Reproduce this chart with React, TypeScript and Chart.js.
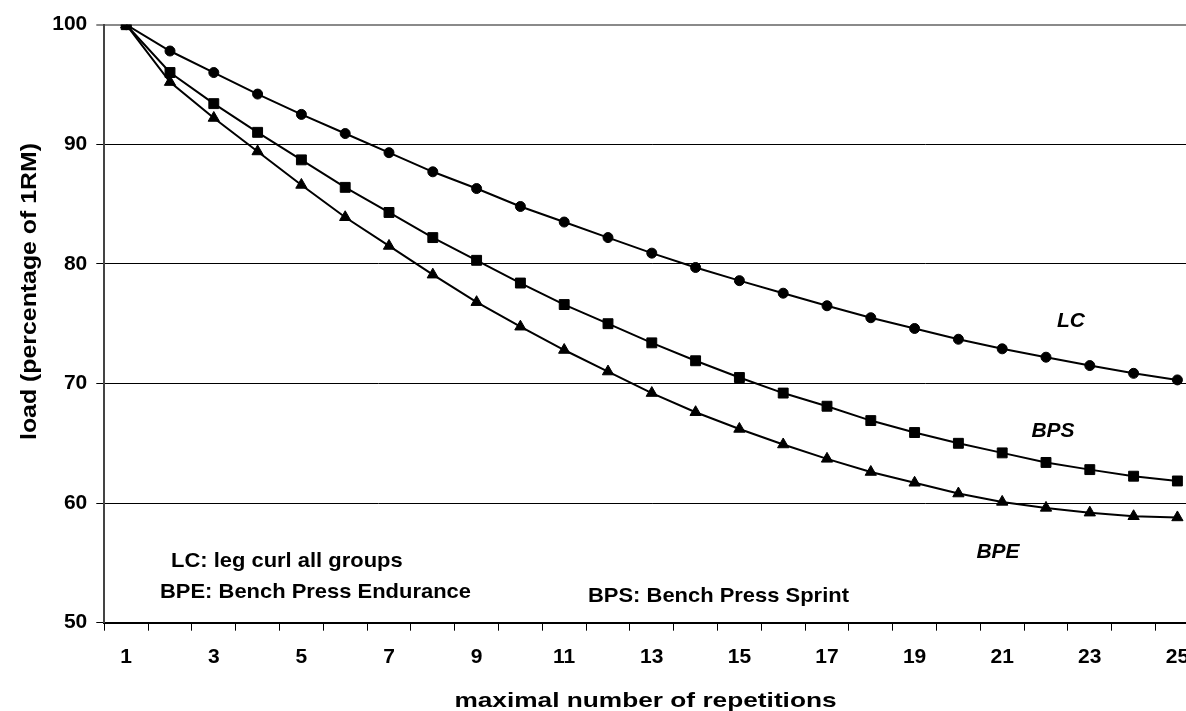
import React, { useEffect, useRef } from "react";
import { Chart, registerables } from "chart.js";

Chart.register(...registerables);

const repetitions = [
  "1", "2", "3", "4", "5", "6", "7", "8", "9", "10", "11", "12", "13",
  "14", "15", "16", "17", "18", "19", "20", "21", "22", "23", "24", "25",
];
const lcLoad = [
  100, 97.8, 96.0, 94.2, 92.5, 90.9, 89.3, 87.7, 86.3, 84.8, 83.5, 82.2, 80.9,
  79.7, 78.6, 77.55, 76.5, 75.5, 74.6, 73.7, 72.9, 72.2, 71.5, 70.85, 70.3,
];
const bpsLoad = [
  100, 96.0, 93.4, 91.0, 88.7, 86.4, 84.3, 82.2, 80.3, 78.4, 76.6, 75.0, 73.4,
  71.9, 70.5, 69.2, 68.1, 66.9, 65.9, 65.0, 64.2, 63.4, 62.8, 62.25, 61.85,
];
const bpeLoad = [
  100, 95.2, 92.2, 89.4, 86.6, 83.9, 81.5, 79.1, 76.8, 74.75, 72.8, 71.0, 69.2,
  67.6, 66.2, 64.9, 63.7, 62.6, 61.7, 60.8, 60.1, 59.6, 59.2, 58.9, 58.8,
];
const yMin = 50;
const yMax = 100;
const yStep = 10;

const xTitle = "maximal number of repetitions";
const yTitle = "load (percentage of 1RM)";
const seriesTags = ["LC", "BPS", "BPE"];
const notes = [
  "LC: leg curl all groups",
  "BPE: Bench Press Endurance",
  "BPS: Bench Press Sprint",
];

const FONT = '"Liberation Sans", Arial, Helvetica, sans-serif';

function drawText(
  ctx: CanvasRenderingContext2D,
  text: string,
  x: number,
  y: number,
  size: number,
  sx: number,
  align: CanvasTextAlign,
  italic = false,
  rotate = 0
) {
  ctx.save();
  ctx.translate(x, y);
  if (rotate) ctx.rotate(rotate);
  ctx.scale(sx, 1);
  ctx.font = `${italic ? "italic " : ""}bold ${size}px ${FONT}`;
  ctx.textAlign = align;
  ctx.textBaseline = "alphabetic";
  ctx.fillStyle = "#000";
  ctx.fillText(text, 0, 0);
  ctx.restore();
}

const textPlugin = {
  id: "textPlugin",
  afterDraw(chart: any) {
    const ctx = chart.ctx as CanvasRenderingContext2D;
    // axis titles
    drawText(ctx, yTitle, 36, 291.5, 22, 1.13, "center", false, -Math.PI / 2);
    drawText(ctx, xTitle, 645.5, 706.5, 21, 1.25, "center");
    // series tags
    drawText(ctx, seriesTags[0], 1071, 327.3, 20, 1.05, "center", true);
    drawText(ctx, seriesTags[1], 1053, 436.7, 21, 1.0, "center", true);
    drawText(ctx, seriesTags[2], 998, 558.3, 21, 1.0, "center", true);
    // notes
    drawText(ctx, notes[0], 171, 566.7, 21, 1.045, "left");
    drawText(ctx, notes[1], 160, 598.3, 21, 1.045, "left");
    drawText(ctx, notes[2], 588, 601.7, 21, 1.045, "left");
  },
};

export default function App() {
  const canvasRef = useRef<HTMLCanvasElement | null>(null);

  useEffect(() => {
    const canvas = canvasRef.current;
    if (!canvas) return;
    const common = {
      borderColor: "#000",
      backgroundColor: "#000",
      borderWidth: 2,
      pointBackgroundColor: "#000",
      pointBorderColor: "#000",
      pointBorderWidth: 1,
      tension: 0,
      fill: false,
    };
    const chart = new Chart(canvas, {
      type: "line",
      data: {
        labels: repetitions,
        datasets: [
          { ...common, label: "LC", data: lcLoad, pointStyle: "circle", pointRadius: 5 },
          { ...common, label: "BPS", data: bpsLoad, pointStyle: "rect", pointRadius: 7 },
          { ...common, label: "BPE", data: bpeLoad, pointStyle: "triangle", pointRadius: 6.5 },
        ],
      },
      options: {
        responsive: false,
        animation: false,
        devicePixelRatio: 1,
        layout: { padding: { top: 24.7, right: 30.7, bottom: 0, left: 0 } },
        plugins: {
          legend: { display: false },
          tooltip: { enabled: false },
          title: { display: false },
        },
        scales: {
          x: {
            type: "category",
            offset: true,
            afterFit: (scale: any) => {
              scale.height = 88.3;
            },
            grid: {
              display: true,
              offset: true,
              drawOnChartArea: false,
              drawTicks: true,
              tickLength: 8,
              color: "#000",
              lineWidth: 1,
            },
            border: { display: true, color: "#000", width: 2 },
            ticks: {
              autoSkip: false,
              maxRotation: 0,
              minRotation: 0,
              padding: 14,
              color: "#000",
              font: { family: FONT, size: 21, weight: "bold" },
              callback: (_v: any, index: number) =>
                index % 2 === 0 ? repetitions[index] : "",
            },
          },
          y: {
            min: yMin,
            max: yMax,
            afterFit: (scale: any) => {
              scale.width = 104.3;
            },
            grid: {
              display: true,
              drawTicks: true,
              tickLength: 8,
              color: (c: any) =>
                c.tick && c.tick.value === yMax ? "#8a8a8a" : "#000",
              lineWidth: (c: any) => (c.tick && c.tick.value === yMax ? 2 : 1),
            },
            border: { display: true, color: "#444", width: 2 },
            ticks: {
              stepSize: yStep,
              padding: 9,
              color: "#000",
              font: { family: FONT, size: 21, weight: "bold" },
            },
          },
        },
      },
      plugins: [textPlugin],
    });
    return () => chart.destroy();
  }, []);

  return (
    <div
      style={{
        position: "fixed",
        left: 0,
        top: 0,
        width: 1186,
        height: 711,
        overflow: "hidden",
        background: "#fff",
      }}
    >
      <canvas
        ref={canvasRef}
        width={1230}
        height={711}
        style={{ display: "block", width: 1230, height: 711 }}
      />
    </div>
  );
}
